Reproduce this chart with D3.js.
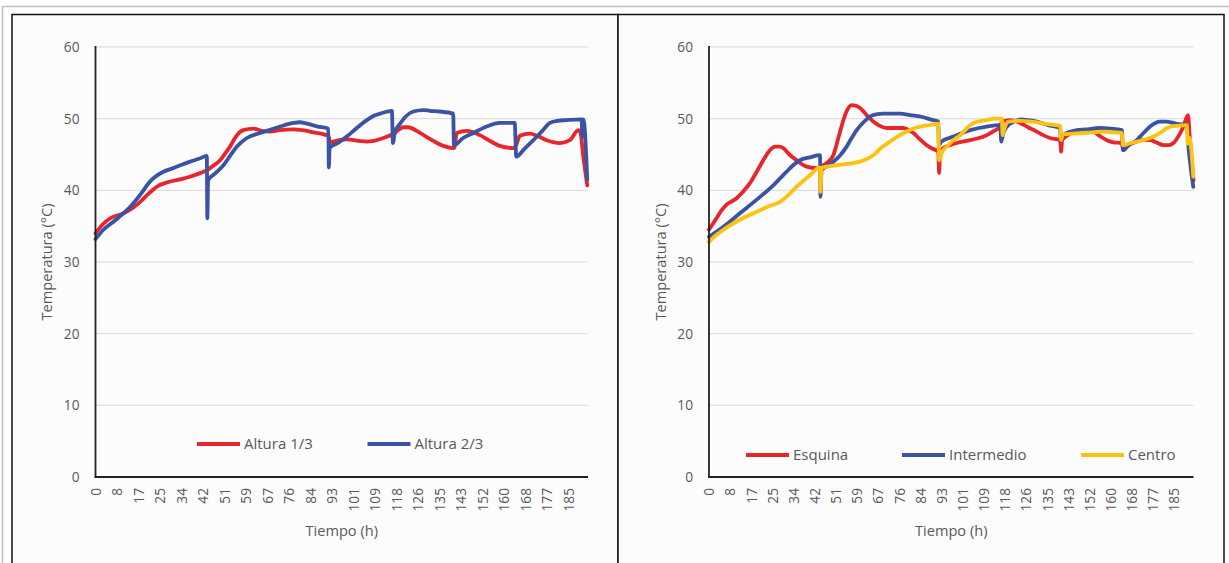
<!DOCTYPE html>
<html>
<head>
<meta charset="utf-8">
<script src="https://cdn.jsdelivr.net/npm/d3@7"></script>
<style>
  html, body { margin: 0; padding: 0; background: #ffffff; }
  svg { display: block; }
  text { font-family: "Open Sans", "DejaVu Sans", sans-serif; fill: #595959; }
</style>
</head>
<body>
<svg id="chart" width="1229" height="563"></svg>
<script>
// ---------- DATA ----------
const yTicks = [0, 10, 20, 30, 40, 50, 60];
const xTickLabels = ["0","8","17","25","34","42","51","59","67","76","84","93","101","109","118","126","135","143","152","160","168","177","185"];
const xTickStep = 8.4167; // hours between labelled categories
const xMaxHours = 192.9;

// Left chart: [hour, °C]
const altura13 = [[0,34.0],[3,35.3],[5.8,36.1],[11,36.8],[14,37.4],[17.5,38.4],[21,39.6],[24,40.5],[29,41.2],[34,41.6],[37,41.9],[41,42.4],[43.6,42.8],[46,43.4],[48.8,44.2],[50.5,45.0],[52.7,46.1],[55,47.5],[57.9,48.4],[61.9,48.6],[65,48.3],[68.4,48.2],[72,48.4],[77.5,48.5],[81,48.4],[85.3,48.1],[91.2,47.6],[92,46.6],[93.2,46.8],[98.4,47.1],[103,46.9],[106.3,46.8],[109,46.9],[112.8,47.3],[116.7,47.9],[120.6,48.8],[122.5,48.8],[125.8,48.3],[129,47.6],[132.3,46.9],[136.2,46.2],[140.2,45.9],[140.6,46.0],[141.5,48.0],[145.4,48.3],[150.6,47.7],[154,47.0],[158.4,46.2],[163.6,45.9],[164.6,46.2],[166.2,47.6],[170.2,47.9],[173,47.6],[176.7,47.0],[181.9,46.6],[185.8,47.0],[189.1,48.4],[190,48.0],[190.8,45.5],[192.6,40.7]];
const altura23 = [[0,33.2],[3.1,34.5],[8,35.9],[13.6,37.7],[18.8,40.0],[21,41.1],[23.4,41.9],[26.6,42.6],[30.5,43.1],[34,43.6],[37.1,44.0],[40.5,44.4],[43.6,44.8],[43.8,36.1],[44.1,41.4],[47,42.4],[50.1,43.5],[52.7,44.8],[55.4,46.1],[59.3,47.3],[64.5,48.0],[68,48.4],[72.3,48.9],[77.5,49.4],[80,49.5],[82.8,49.3],[87,48.9],[91.2,48.6],[91.4,43.2],[91.7,45.9],[95,46.6],[98.4,47.5],[102,48.6],[106.3,49.8],[109,50.4],[111.5,50.7],[116.1,51.1],[116.5,46.6],[117.3,48.2],[119.3,49.3],[121.5,50.3],[124.5,51.0],[128.4,51.2],[131,51.1],[134.9,51.0],[140.1,50.7],[140.4,46.3],[144,47.3],[148,48.0],[153.2,48.9],[158.4,49.4],[164.2,49.4],[164.8,44.7],[168,45.8],[171.5,47.0],[175,48.3],[178,49.4],[181,49.7],[184.6,49.8],[190.4,49.9],[190.7,47.5],[191.1,49.9],[192.6,41.5]];

// Right chart: [hour, °C]
const esquina = [[0,34.5],[1.5,35.3],[3,36.1],[5,37.2],[7,38.0],[11,38.9],[13.5,39.8],[16.3,41.0],[19,42.6],[21.6,44.2],[24,45.5],[26.3,46.1],[28,46.1],[29.6,45.9],[32,45.0],[34.9,44.2],[38.9,43.3],[42.9,43.1],[45.5,43.5],[47.5,44.0],[49.5,44.9],[51.5,47.3],[53.5,49.8],[55,51.2],[56.8,51.9],[58.5,51.8],[60.1,51.5],[62.5,50.6],[65.4,49.6],[68,49.0],[70.8,48.7],[74,48.7],[77.4,48.7],[79.5,48.4],[81.4,48.0],[84,47.1],[86.7,46.3],[89,45.8],[91.3,45.4],[91.6,42.4],[92,45.3],[93.3,45.9],[96,46.3],[98.7,46.6],[104,47.0],[110.6,47.7],[113,48.2],[115.9,48.9],[116.6,49.6],[120,49.8],[123.9,49.4],[127,48.8],[130.5,48.2],[133,47.7],[135.8,47.3],[139.8,47.0],[140.2,45.4],[140.6,47.0],[142,47.5],[146.4,48.2],[150,48.3],[153,48.2],[155.5,47.6],[158.4,47.0],[161,46.7],[164.4,46.6],[165,45.6],[167,46.3],[170.3,46.8],[172.5,47.0],[175.6,47.0],[178,46.7],[181,46.3],[183,46.3],[184.9,46.6],[187,47.6],[188.9,48.9],[190.7,50.5],[191.5,47.0],[192.3,43.8],[192.9,41.4]];
const intermedio = [[0,33.5],[2,34.0],[5.7,34.9],[12.3,36.8],[19,38.7],[25.6,40.7],[30.9,42.6],[33.5,43.5],[36.2,44.2],[40.2,44.6],[44.2,44.9],[44.4,39.1],[44.8,42.8],[47,43.4],[49.5,44.0],[52,44.8],[54.8,46.1],[56.8,47.3],[58.8,48.4],[61.5,49.5],[64.1,50.3],[66.5,50.6],[69.4,50.7],[72.5,50.7],[76.1,50.7],[80,50.5],[85.4,50.2],[88,49.9],[91.3,49.6],[91.5,46.3],[92.5,46.8],[97.3,47.5],[104,48.4],[110.6,48.9],[115.9,49.1],[116.4,46.8],[117,47.8],[118.6,48.9],[121.5,49.6],[124.5,49.9],[127,49.8],[130.5,49.6],[135,49.1],[139.8,48.7],[140.1,46.9],[141,47.7],[146.4,48.4],[150,48.5],[155.7,48.7],[160,48.6],[164.4,48.4],[164.8,45.6],[167,46.3],[170.3,47.0],[173,48.0],[175.6,48.9],[179.6,49.6],[182,49.6],[184.9,49.4],[188,49.2],[190.3,49.2],[190.8,46.5],[191.5,44.0],[192.8,40.5]];
const centro = [[0,32.8],[2,33.5],[5.7,34.5],[12.3,35.9],[19,37.0],[24,37.8],[28.3,38.4],[31.5,39.3],[34.9,40.5],[37.5,41.3],[40.2,42.1],[44.2,43.2],[44.4,39.8],[44.8,43.1],[47,43.3],[50.9,43.5],[55,43.7],[60.1,44.0],[63,44.4],[65.4,44.9],[68.5,45.9],[72.1,46.8],[75,47.5],[78.7,48.2],[82,48.7],[85.4,49.0],[88,49.1],[91.3,49.3],[91.6,44.2],[93,45.5],[94.7,46.1],[97,46.9],[100,47.7],[104,49.1],[107,49.6],[110.6,49.8],[113.5,50.0],[116.6,50.0],[116.9,47.7],[117.5,48.5],[119.2,49.6],[124.5,49.7],[128,49.6],[131.8,49.4],[135.5,49.2],[139.8,49.0],[140.2,47.0],[140.8,47.8],[145,47.9],[149,48.0],[153,48.1],[157,48.2],[161,48.1],[164.4,48.0],[164.8,46.3],[167,46.5],[170.3,46.8],[173,47.0],[177,47.5],[180,48.1],[182.3,48.7],[186,49.0],[190.3,49.1],[190.6,46.5],[191.3,47.3],[192.8,41.9]];

const leftSeries = [
  { name: "Altura 1/3", data: altura13, color: "#E8252B" },
  { name: "Altura 2/3", data: altura23, color: "#3A53A4" }
];
const rightSeries = [
  { name: "Esquina", data: esquina, color: "#E8252B" },
  { name: "Intermedio", data: intermedio, color: "#3A53A4" },
  { name: "Centro", data: centro, color: "#FFC20E" }
];

// ---------- FRAME ----------
const svg = d3.select("#chart");
svg.append("rect").attr("x", 2.5).attr("y", 6.5).attr("width", 1240).attr("height", 600)
  .attr("fill", "#ffffff").attr("stroke", "#BFBFBF").attr("stroke-width", 1.5);
svg.append("rect").attr("x", 12).attr("y", 14.5).attr("width", 606).attr("height", 600)
  .attr("fill", "#FCFCFC").attr("stroke", "#111").attr("stroke-width", 1.5);
svg.append("rect").attr("x", 618).attr("y", 14.5).attr("width", 606).attr("height", 600)
  .attr("fill", "#FCFCFC").attr("stroke", "#111").attr("stroke-width", 1.5);

function drawChart(cfg) {
  const g = svg.append("g");
  const x = d3.scaleLinear().domain([0, xMaxHours]).range([cfg.x0, cfg.x1]);
  const y = d3.scaleLinear().domain([0, 60]).range([477, 47]);

  // gridlines
  g.append("g").selectAll("line").data(yTicks.filter(d => d > 0)).join("line")
    .attr("x1", cfg.x0).attr("x2", cfg.x1)
    .attr("y1", d => y(d)).attr("y2", d => y(d))
    .attr("stroke", "#D9D9D9").attr("stroke-width", 1);

  // y tick labels
  const yAxis = d3.axisLeft(y).tickValues(yTicks).tickSize(0).tickPadding(16);
  const ya = g.append("g").attr("transform", `translate(${cfg.x0},0)`).call(yAxis);
  ya.select(".domain").remove();
  ya.selectAll("text").style("font-size", "13.7px").attr("fill", "#595959")
    .style("font-family", '"Open Sans", sans-serif');

  // x tick labels (rotated)
  const xTickVals = xTickLabels.map((d, i) => i * xTickStep);
  const xAxis = d3.axisBottom(x).tickValues(xTickVals).tickSize(0)
    .tickFormat((d, i) => xTickLabels[i]);
  const xa = g.append("g").attr("transform", "translate(0,477)").call(xAxis);
  xa.select(".domain").remove();
  xa.selectAll("text")
    .style("font-size", "13.7px").attr("fill", "#595959")
    .style("font-family", '"Open Sans", sans-serif')
    .attr("text-anchor", "end").attr("dy", "0.35em").attr("y", 0).attr("x", 0)
    .attr("transform", "translate(0,11) rotate(-90)");

  // series
  const line = d3.line().x(d => x(d[0])).y(d => y(d[1])).curve(d3.curveMonotoneX);
  cfg.series.forEach(s => {
    g.append("path").datum(s.data).attr("d", line)
      .attr("fill", "none").attr("stroke", s.color).attr("stroke-width", 3.8)
      .attr("stroke-linejoin", "round").attr("stroke-linecap", "round");
  });

  // axis lines
  g.append("line").attr("x1", cfg.x0).attr("x2", cfg.x0).attr("y1", 46).attr("y2", 477.5)
    .attr("stroke", "#222").attr("stroke-width", 1.8);
  g.append("line").attr("x1", cfg.x0 - 0.9).attr("x2", cfg.x1).attr("y1", 477).attr("y2", 477)
    .attr("stroke", "#222").attr("stroke-width", 1.8);

  // axis titles
  g.append("text").attr("x", (cfg.x0 + cfg.x1) / 2).attr("y", 531).attr("dy", "0.35em")
    .attr("text-anchor", "middle").style("font-size", "14.6px").text("Tiempo (h)");
  g.append("text").attr("transform", `translate(${cfg.yTitleX},262) rotate(-90)`)
    .attr("dy", "0.35em").attr("text-anchor", "middle").style("font-size", "14.6px")
    .text("Temperatura (°C)");

  // legend
  cfg.series.forEach((s, i) => {
    const lx = cfg.legendX[i];
    g.append("line").attr("x1", lx).attr("x2", lx + 43).attr("y1", cfg.legendY).attr("y2", cfg.legendY)
      .attr("stroke", s.color).attr("stroke-width", 4);
    g.append("text").attr("x", lx + 47).attr("y", cfg.legendY).attr("dy", "0.35em")
      .style("font-size", "15px").text(s.name);
  });
}

drawChart({ x0: 95.5, x1: 588, series: leftSeries, yTitleX: 46.5,
  legendX: [197, 367.5], legendY: 444 });
drawChart({ x0: 709, x1: 1193.5, series: rightSeries, yTitleX: 660.5,
  legendX: [746, 902, 1081], legendY: 455 });
</script>
</body>
</html>
